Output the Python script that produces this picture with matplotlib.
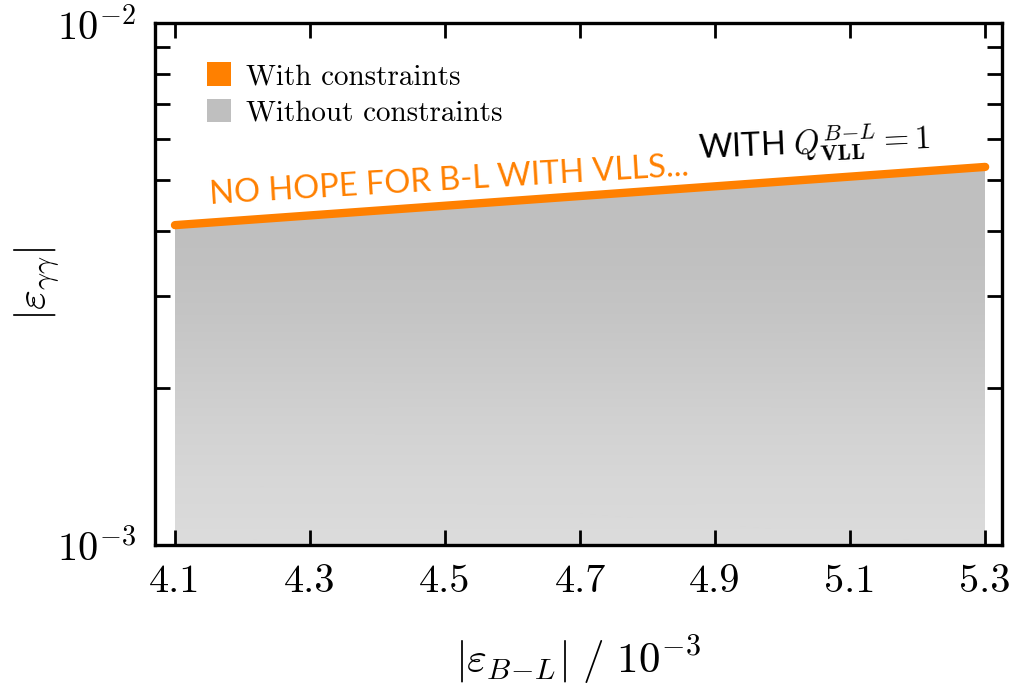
import numpy as np
import matplotlib
matplotlib.use("Agg")
import matplotlib.pyplot as plt
from matplotlib.patches import Patch, Polygon
from matplotlib.colors import LinearSegmentedColormap

plt.rcParams['font.family'] = 'serif'
plt.rcParams['font.serif'] = ['cmr10']
plt.rcParams['mathtext.fontset'] = 'cm'
plt.rcParams['axes.formatter.use_mathtext'] = True

# upper edge of the scanned region (= constraint line)
x_edge = [4.1, 5.3]
y_edge = [4.1e-3, 5.3e-3]

y_levels = [1.0e-3, 1.33e-3, 1.74e-3, 2.16e-3, 2.7e-3, 3.29e-3, 3.85e-3, 6.0e-3]
coverage = [0.55, 0.63, 0.72, 0.81, 0.90, 0.97, 1.0, 1.0]

x_ticks = [4.1, 4.3, 4.5, 4.7, 4.9, 5.1, 5.3]

orange = '#ff8000'
grey = '#bfbfbf'

fig = plt.figure(figsize=(10.25, 6.88), dpi=100)
ax = fig.add_axes([0.1512, 0.2078, 0.8264, 0.7588])
ax.set_yscale('log')
ax.set_xlim(4.0704, 5.325)
ax.set_ylim(1e-3, 1e-2)

# grey scan region, shaded by point coverage
cmap = LinearSegmentedColormap.from_list('cov', ['white', grey])
C = np.column_stack([coverage, coverage])
mesh = ax.pcolormesh(x_edge, y_levels, C, cmap=cmap, vmin=0, vmax=1,
                     shading='gouraud', zorder=1)
region = Polygon([(x_edge[0], 1e-3), (x_edge[0], y_edge[0]),
                  (x_edge[1], y_edge[1]), (x_edge[1], 1e-3)],
                 closed=True, fill=False, edgecolor='none',
                 transform=ax.transData)
ax.add_patch(region)
mesh.set_clip_path(region)

ax.plot(x_edge, y_edge, color=orange, lw=6, solid_capstyle='round', zorder=3)

ax.text(4.152, 4.5e-3, 'NO HOPE FOR B-L WITH VLLS...', color=orange,
        family='Lato', fontsize=23.5, rotation=3.4,
        rotation_mode='anchor', ha='left', va='baseline')
ax.text(4.875, 5.5e-3, r'WITH $Q^{B\!-\!L}_{\mathbf{VLL}}=1$',
        color='black', family='Lato', fontsize=23.5,
        rotation=2.5, rotation_mode='anchor', ha='left', va='baseline')

ax.set_xticks(x_ticks)
ax.set_xticklabels([str(t) for t in x_ticks])
ax.tick_params(which='both', direction='in', top=True, right=True,
               length=11, width=2, labelsize=29, pad=14)
ax.tick_params(axis='y', which='minor', labelleft=False)
for s in ax.spines.values():
    s.set_linewidth(2.4)

ax.set_xlabel(r'$|\varepsilon_{B\!-\!L}|\ /\ 10^{-3}$', fontsize=31, labelpad=24)
ax.set_ylabel(r'$|\varepsilon_{\gamma\gamma}|$', fontsize=31)
ax.yaxis.set_label_coords(-0.11, 0.5)

handles = [Patch(facecolor=orange, edgecolor='none', label='With constraints'),
           Patch(facecolor=grey, edgecolor='none', label='Without constraints')]
ax.legend(handles=handles, loc='upper left', bbox_to_anchor=(0.03, 0.975),
          frameon=False, fontsize=21, handlelength=0.85, handleheight=0.85,
          handletextpad=0.5, labelspacing=0.3)

fig.savefig('out.png', dpi=100)
